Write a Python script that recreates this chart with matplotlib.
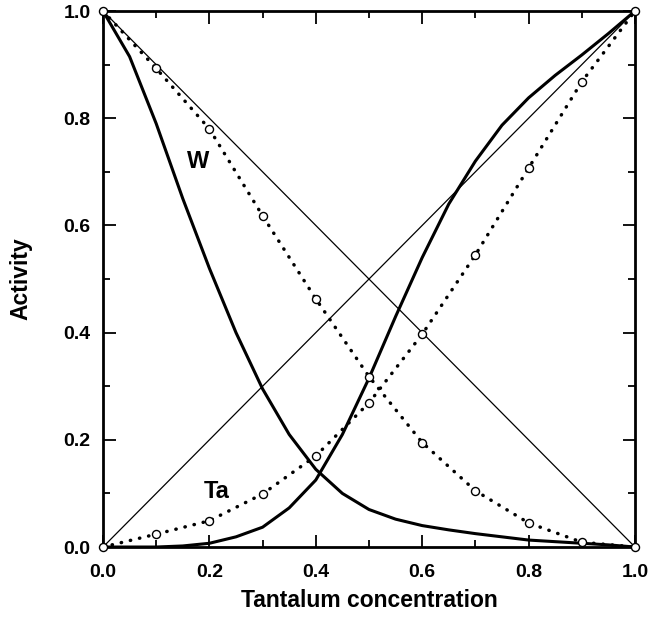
import numpy as np
import matplotlib.pyplot as plt

plt.rcParams['font.family'] = ['Liberation Sans', 'DejaVu Sans']
plt.rcParams['font.weight'] = 'bold'

# thermodynamic activity curves, W-Ta binary
x_calc = [0.0, 0.05, 0.1, 0.15, 0.2, 0.25, 0.3, 0.35, 0.4, 0.45, 0.5,
          0.55, 0.6, 0.65, 0.7, 0.75, 0.8, 0.85, 0.9, 0.95, 1.0]
a_w_calc = [1.0, 0.915, 0.79, 0.65, 0.52, 0.40, 0.295, 0.21, 0.145, 0.10, 0.07,
            0.052, 0.04, 0.032, 0.025, 0.019, 0.013, 0.010, 0.007, 0.004, 0.0]
a_ta_calc = [0.0, 0.0, 0.0, 0.002, 0.007, 0.019, 0.037, 0.073, 0.125, 0.21, 0.315,
             0.43, 0.54, 0.64, 0.72, 0.787, 0.838, 0.88, 0.918, 0.958, 1.0]

# measured points (dotted with open circles)
x_exp = [0.0, 0.1, 0.2, 0.3, 0.4, 0.5, 0.6, 0.7, 0.8, 0.9, 1.0]
a_w_exp = [1.0, 0.893, 0.78, 0.618, 0.463, 0.318, 0.195, 0.105, 0.045, 0.009, 0.0]
a_ta_exp = [0.0, 0.024, 0.049, 0.099, 0.17, 0.269, 0.397, 0.545, 0.707, 0.868, 1.0]

ticks = [0.0, 0.2, 0.4, 0.6, 0.8, 1.0]
tick_labels = ["0.0", "0.2", "0.4", "0.6", "0.8", "1.0"]

fig = plt.figure(figsize=(6.49, 6.20), dpi=100)
ax = fig.add_axes([0.1587, 0.1177, 0.8197, 0.8645])

# Raoult's law reference lines
ax.plot([0, 1], [0, 1], color="black", lw=0.9)
ax.plot([0, 1], [1, 0], color="black", lw=0.9)

ax.plot(x_calc, a_w_calc, color="black", lw=2.2, solid_capstyle="round")
ax.plot(x_calc, a_ta_calc, color="black", lw=2.2, solid_capstyle="round")

dot = (0, (0.1, 2.6))
for ys in (a_w_exp, a_ta_exp):
    ax.plot(x_exp, ys, color="black", lw=2.5, linestyle=dot,
            dash_capstyle="round", clip_on=False)
    ax.plot(x_exp, ys, linestyle="none", marker="o", ms=5.8, mfc="white",
            mec="black", mew=1.0, clip_on=False, zorder=5)

ax.text(0.179, 0.72, "W", fontsize=17, fontweight="bold", ha="center", va="center")
ax.text(0.214, 0.103, "Ta", fontsize=17, fontweight="bold", ha="center", va="center")

ax.set_xlim(0, 1)
ax.set_ylim(0, 1)
ax.set_xticks(ticks)
ax.set_xticklabels(tick_labels)
ax.set_yticks(ticks)
ax.set_yticklabels(tick_labels)
ax.set_xticks(np.arange(0.1, 1.0, 0.2), minor=True)
ax.set_yticks(np.arange(0.1, 1.0, 0.2), minor=True)
ax.tick_params(which="both", direction="in", top=True, right=True, width=1.3,
               labelsize=14)
ax.tick_params(axis="x", which="both", pad=12)
ax.tick_params(axis="y", which="both", pad=9)
ax.tick_params(which="major", length=9)
ax.tick_params(which="minor", length=5)
for lab in ax.get_xticklabels() + ax.get_yticklabels():
    lab.set_fontweight("bold")
for sp in ax.spines.values():
    sp.set_linewidth(2.0)

ax.set_xlabel("Tantalum concentration", fontsize=16.5, fontweight="bold", labelpad=6)
ax.set_ylabel("Activity", fontsize=16.5, fontweight="bold", labelpad=22)

fig.savefig("out.png", dpi=100)
